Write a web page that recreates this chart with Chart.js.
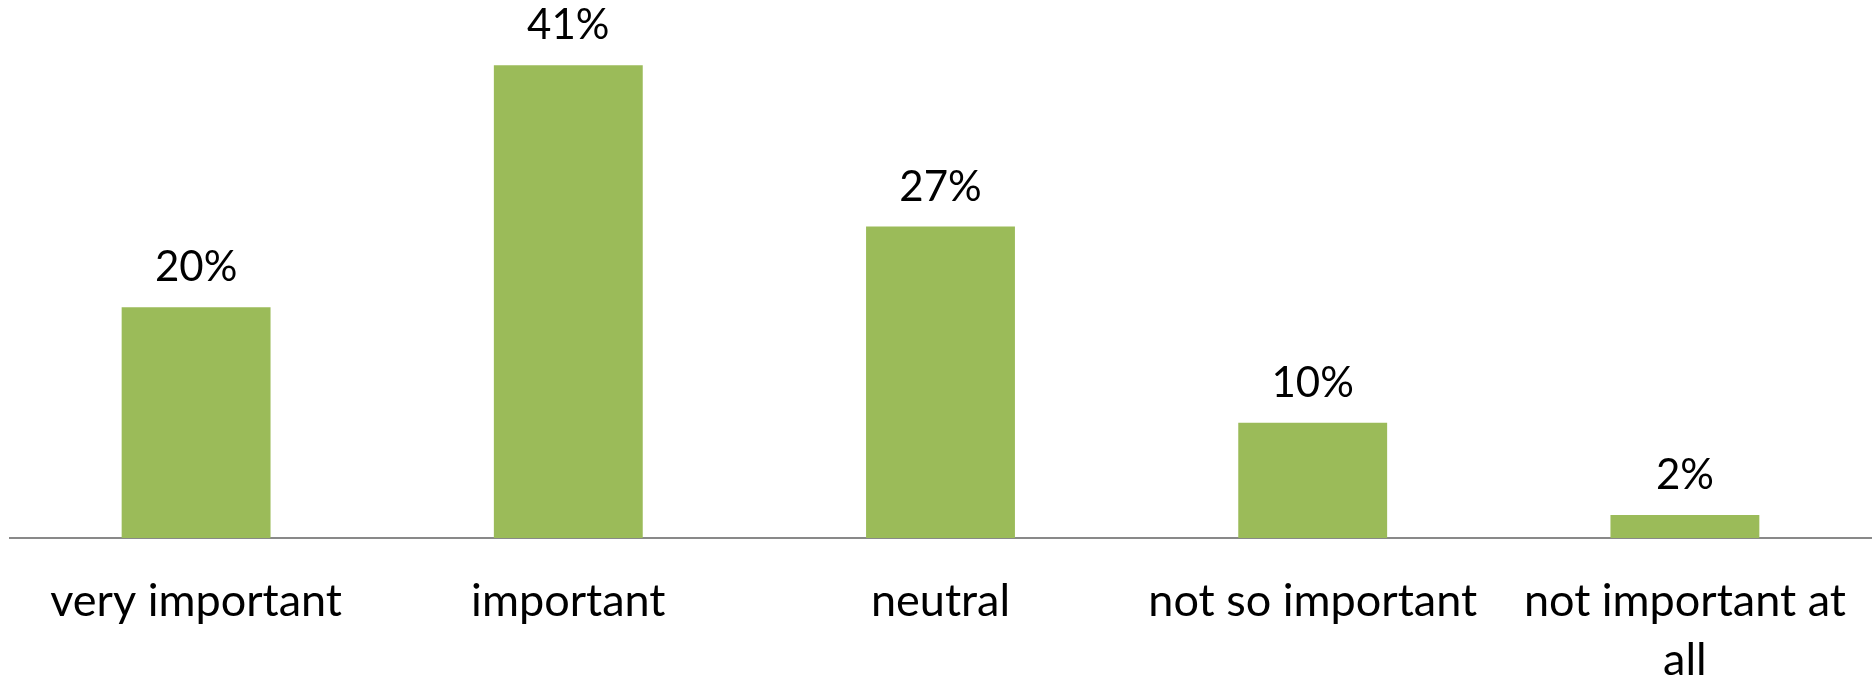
<!DOCTYPE html>
<html lang="en">
<head>
    <meta charset="UTF-8">
    <title>Importance</title>
    <script src="https://cdn.jsdelivr.net/npm/chart.js"></script>
    <style>
        html, body { margin: 0; padding: 0; background: #fff; }
        .chart-box { width: 1875px; height: 680px; position: relative; }
    </style>
</head>
<body>
<div class="chart-box">
    <canvas id="importanceChart"></canvas>
</div>

<script>
    const categories = ["very important", "important", "neutral", "not so important", ["not important at", "all"]];
    const shares = [20, 41, 27, 10, 2];

    const fontFamily = "Lato, 'Noto Sans', sans-serif";

    // percent labels above each bar
    const barLabels = {
        id: 'barLabels',
        afterDatasetsDraw(chart) {
            const c = chart.ctx;
            const meta = chart.getDatasetMeta(0);
            c.save();
            c.font = "42px " + fontFamily;
            c.fillStyle = "#000";
            c.textAlign = "center";
            c.textBaseline = "alphabetic";
            meta.data.forEach((bar, i) => {
                c.fillText(shares[i] + "%", bar.x, bar.y - 26);
            });
            c.restore();
        }
    };

    const ctx = document.getElementById('importanceChart').getContext('2d');
    const importanceChart = new Chart(ctx, {
        type: 'bar',
        data: {
            labels: categories,
            datasets: [{
                data: shares,
                backgroundColor: "#9bbb59",
                barPercentage: 0.4,
                categoryPercentage: 1.0
            }]
        },
        options: {
            responsive: true,
            maintainAspectRatio: false,
            animation: false,
            layout: { padding: { top: 19, left: 10, right: 4, bottom: 0 } },
            plugins: {
                legend: { display: false },
                tooltip: { enabled: false }
            },
            scales: {
                x: {
                    grid: { display: false, drawTicks: false },
                    border: { color: "#898989", width: 2 },
                    ticks: {
                        color: "#000",
                        font: { family: fontFamily, size: 45, lineHeight: 1.333 },
                        padding: 33,
                        maxRotation: 0,
                        autoSkip: false
                    },
                    afterFit(scale) {
                        // fixed axis band, labels may overhang the plot edges
                        scale.height = 142;
                        scale.paddingLeft = 0;
                        scale.paddingRight = 0;
                    }
                },
                y: {
                    display: false,
                    min: 0,
                    max: 45
                }
            }
        },
        plugins: [barLabels]
    });
</script>
</body>
</html>
